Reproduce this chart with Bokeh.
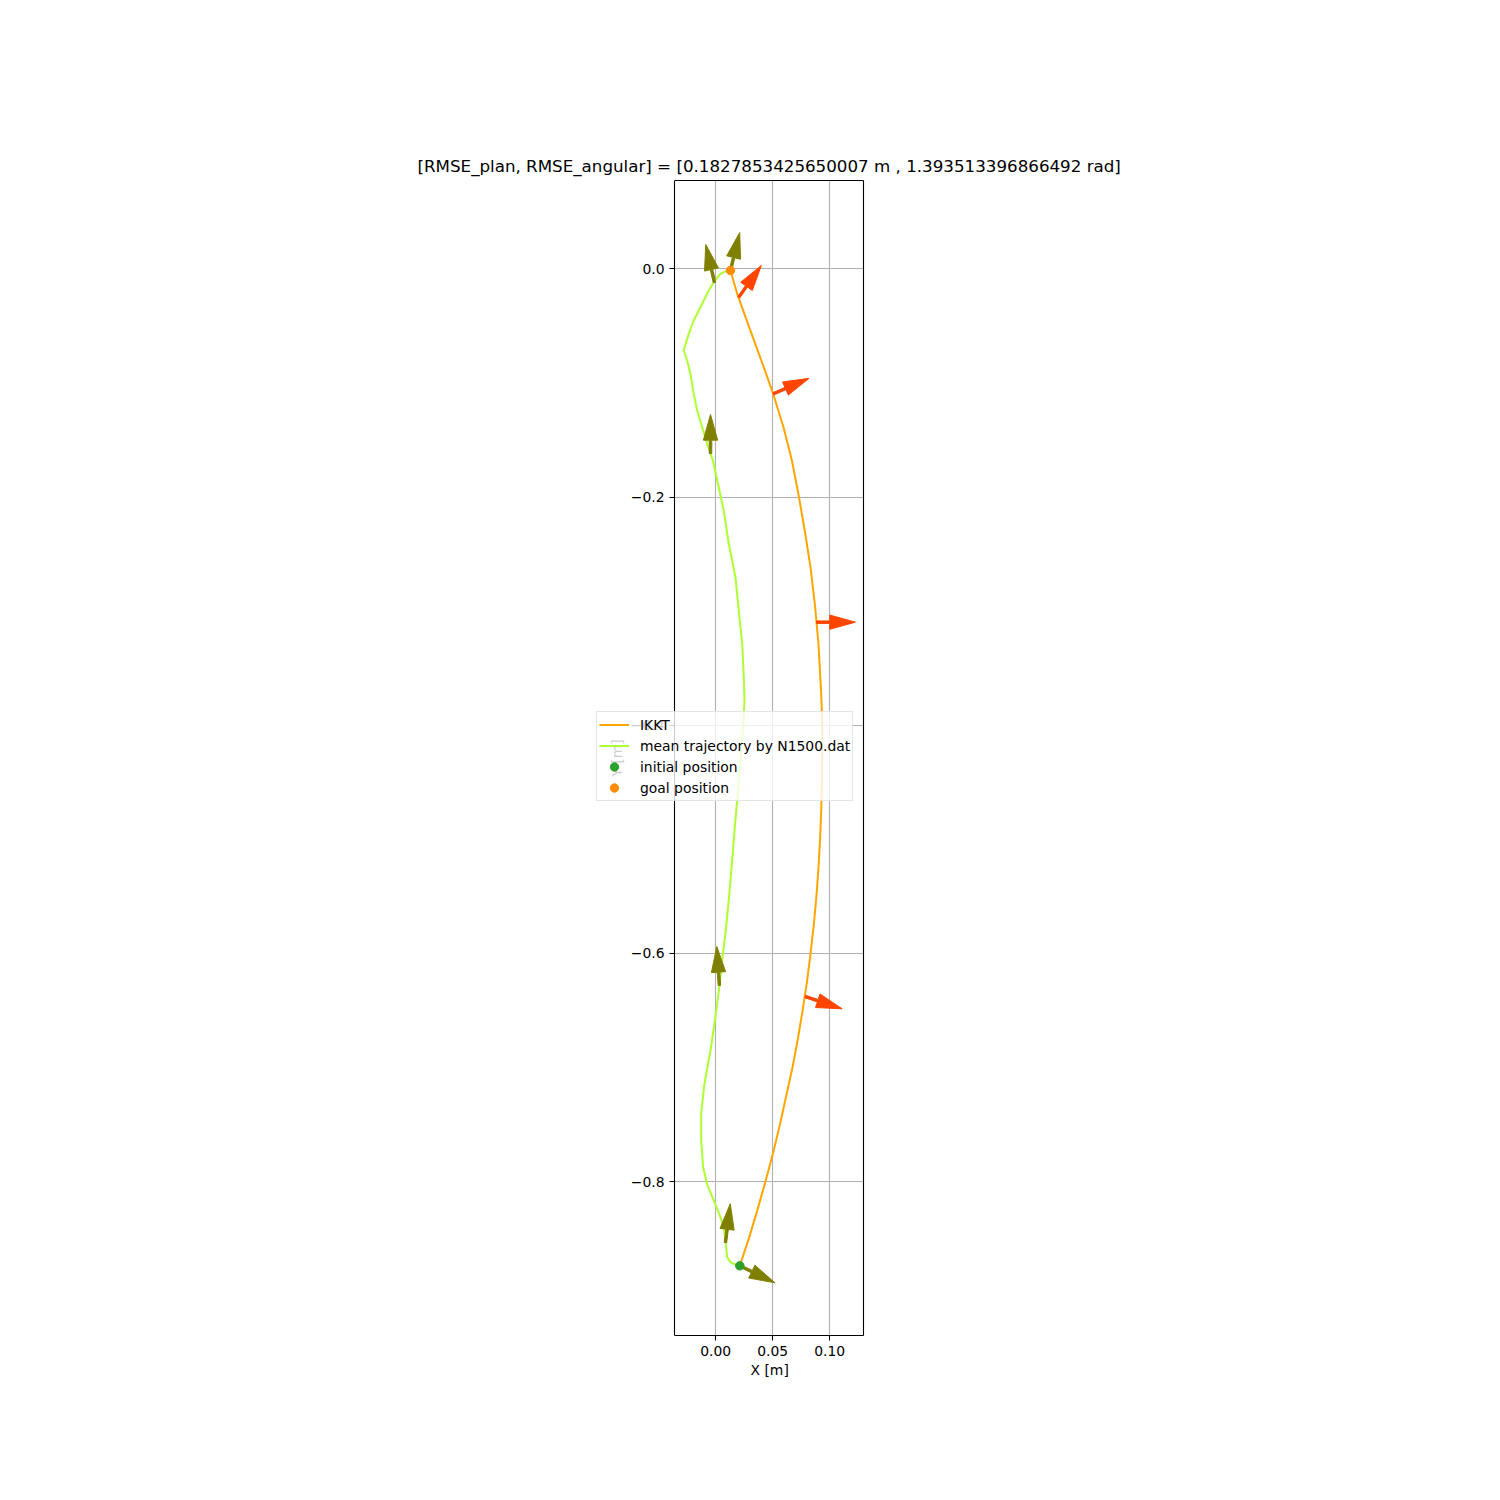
import numpy as np
from bokeh.plotting import figure
from bokeh.models import (Range1d, FixedTicker, Legend, LegendItem, LinearAxis,
                          BoxAnnotation, Title)
from bokeh.embed import file_html
from bokeh.resources import INLINE

TITLE = "[RMSE_plan, RMSE_angular] = [0.1827853425650007 m , 1.393513396866492 rad]"

# IKKT trajectory (from initial to goal)
ikkt_x = [0.0211, 0.0290, 0.0365, 0.0436, 0.0503, 0.0563, 0.0618, 0.0673, 0.0720, 0.0762,
          0.0800, 0.0832, 0.0860, 0.0883, 0.0901, 0.0915, 0.0925, 0.0931, 0.0934, 0.0935,
          0.0925, 0.0901, 0.0872, 0.0831, 0.0785, 0.0731, 0.0668, 0.0594, 0.0504, 0.0421,
          0.0304, 0.0188, 0.0129]
ikkt_y = [-0.8738, -0.850, -0.825, -0.800, -0.775, -0.750, -0.725, -0.700, -0.675, -0.650,
          -0.625, -0.600, -0.575, -0.550, -0.525, -0.500, -0.475, -0.450, -0.425, -0.400,
          -0.3725, -0.3287, -0.2966, -0.2615, -0.2320, -0.2007, -0.1680, -0.1388, -0.1096, -0.0862,
          -0.0541, -0.0219, -0.0015]

# mean trajectory by N1500.dat
mean_x = [0.0211, 0.0188, 0.0129, 0.0100, 0.0085, 0.0070, 0.0041, -0.0016, -0.0073, -0.0111,
          -0.0128, -0.0128, -0.0099, -0.0046, -0.0003, 0.0035, 0.0056, 0.0085, 0.0114, 0.0144,
          0.0167, 0.0193, 0.0217, 0.0240, 0.0252, 0.0246, 0.0232, 0.0202, 0.0173, 0.0114,
          0.0070, 0.0026, -0.0025, -0.0075, -0.0119, -0.0163, -0.0193, -0.0222, -0.0251, -0.0281,
          -0.0237, -0.0193, -0.0149, -0.0105, -0.0061, -0.0018, 0.0041, 0.0100, 0.0129]
mean_y = [-0.8738, -0.8735, -0.8706, -0.8663, -0.8516, -0.8400, -0.8312, -0.8166, -0.8034, -0.7874,
          -0.7640, -0.7403, -0.7140, -0.6851, -0.6559, -0.6264, -0.6062, -0.5826, -0.5536, -0.5186,
          -0.4894, -0.4601, -0.4309, -0.4018, -0.3783, -0.3579, -0.3287, -0.2995, -0.2703, -0.2410,
          -0.2118, -0.1914, -0.1680, -0.1534, -0.1388, -0.1242, -0.1096, -0.0920, -0.0804, -0.0716,
          -0.0570, -0.0453, -0.0365, -0.0278, -0.0190, -0.0117, -0.0044, -0.0015, -0.0015]

# orientation arrows along IKKT (orangered)
ikkt_arrow_x = [0.0202, 0.0504, 0.0883, 0.0784]
ikkt_arrow_y = [-0.0249, -0.1096, -0.3097, -0.6378]
ikkt_arrow_deg = [54.6, 23.4, 0.0, -18.4]

# orientation arrows along mean trajectory (olive)
mean_arrow_x = [0.0211, 0.0085, 0.0032, -0.0046, -0.0011, 0.0129]
mean_arrow_y = [-0.8738, -0.8534, -0.6281, -0.1619, -0.0120, -0.0015]
mean_arrow_deg = [-25.8, 82.9, 93.8, 90.0, 103.0, 76.3]

init_x, init_y = [0.0211], [-0.8738]
goal_x, goal_y = [0.0129], [-0.0015]

# axes box limits (data units)
x_lim = (-0.0362, 0.1296)
y_lim = (-0.9349, 0.0774)
x_ticks = [0.0, 0.05, 0.10]
x_tick_labels = ["0.00", "0.05", "0.10"]
y_ticks = [-0.8, -0.6, -0.4, -0.2, 0.0]
y_tick_labels = ["\u22120.8", "\u22120.6", "\u22120.4", "\u22120.2", "0.0"]

FONT = "DejaVu Sans"
SCALE = 1140.0            # px per metre (equal aspect)
FRAME_LEFT = 580          # frame extends left of the axes box to host the legend
FRAME_W = 283
x_start = x_lim[1] - FRAME_W / SCALE


def arrow_polys(xs, ys, degs, shaft=0.0117, width=0.0022, head_w=0.0125, head_l=0.0225):
    pxs, pys = [], []
    for x, y, d in zip(xs, ys, degs):
        t = np.radians(d)
        u = np.array([np.cos(t), np.sin(t)])
        n = np.array([-u[1], u[0]])
        s = np.array([x, y])
        b = s + u * shaft
        pts = [s + n * width / 2, b + n * width / 2, b + n * head_w / 2,
               b + u * head_l, b - n * head_w / 2, b - n * width / 2, s - n * width / 2]
        pxs.append([float(pt[0]) for pt in pts])
        pys.append([float(pt[1]) for pt in pts])
    return pxs, pys


p = figure(frame_width=FRAME_W, frame_height=1155,
           x_range=Range1d(x_start, x_lim[1]), y_range=Range1d(*y_lim),
           output_backend="svg", toolbar_location=None,
           min_border_left=FRAME_LEFT, min_border_top=180, min_border_right=617,
           min_border_bottom=145, title=TITLE)

p.title.align = "left"
p.title.offset = -163
p.title.text_font = FONT
p.title.text_font_size = "16.7px"
p.title.text_font_style = "normal"
p.title.text_color = "black"

p.outline_line_color = None


def style_axis(ax):
    ax.axis_line_color = "black"
    ax.axis_line_width = 1.1
    ax.major_tick_line_color = "black"
    ax.major_tick_line_width = 1.1
    ax.major_tick_in = 0
    ax.major_tick_out = 5
    ax.minor_tick_line_color = None
    ax.major_label_text_font = FONT
    ax.major_label_text_font_size = "13.9px"
    ax.major_label_text_color = "black"
    ax.major_label_standoff = 5
    ax.axis_label_text_font = FONT
    ax.axis_label_text_font_size = "13.9px"
    ax.axis_label_text_font_style = "normal"
    ax.axis_label_text_color = "black"


xa, ya = p.xaxis[0], p.yaxis[0]
style_axis(xa)
style_axis(ya)
xa.ticker = FixedTicker(ticks=x_ticks)
xa.major_label_overrides = {t: l for t, l in zip(x_ticks, x_tick_labels)}
xa.bounds = x_lim
ya.ticker = FixedTicker(ticks=y_ticks)
ya.major_label_overrides = {t: l for t, l in zip(y_ticks, y_tick_labels)}
ya.fixed_location = x_lim[0]
ya.axis_label = "Y [m]"
ya.axis_label_standoff = 3

# top and right spines
for side, bnds in (("above", x_lim), ("right", y_lim)):
    sp = LinearAxis(ticker=FixedTicker(ticks=[]), bounds=bnds)
    sp.axis_line_color = "black"
    sp.axis_line_width = 1.1
    sp.major_tick_out = 0
    sp.major_tick_in = 0
    sp.minor_tick_line_color = None
    sp.major_label_text_font_size = "0px"
    p.add_layout(sp, side)

p.add_layout(Title(text="X [m]", align="left", offset=170, text_font=FONT,
                   text_font_size="13.9px", text_font_style="normal",
                   text_color="black", standoff=2), "below")

p.grid.grid_line_color = "#b0b0b0"
p.grid.grid_line_width = 1.1

# hide grid lines left of the axes box (area used only by the legend)
p.add_layout(BoxAnnotation(right=x_lim[0], fill_color="white", fill_alpha=1.0,
                           line_color=None, level="underlay"))

r_ikkt = p.line(ikkt_x, ikkt_y, line_color="#FFA500", line_width=2)
r_mean = p.line(mean_x, mean_y, line_color="#ADFF2F", line_width=2)

axs, ays = arrow_polys(ikkt_arrow_x, ikkt_arrow_y, ikkt_arrow_deg)
p.patches(axs, ays, fill_color="#FF4500", line_color="#FF4500", line_width=1)
bxs, bys = arrow_polys(mean_arrow_x, mean_arrow_y, mean_arrow_deg)
p.patches(bxs, bys, fill_color="#808000", line_color="#808000", line_width=1)

r_init = p.scatter(init_x, init_y, size=8.5, fill_color="#2ca02c", line_color="#2ca02c")
r_goal = p.scatter(goal_x, goal_y, size=8.5, fill_color="#FF8C00", line_color="#FF8C00")

legend = Legend(items=[
    LegendItem(label="IKKT", renderers=[r_ikkt]),
    LegendItem(label="mean trajectory by N1500.dat", renderers=[r_mean]),
    LegendItem(label="initial position", renderers=[r_init]),
    LegendItem(label="goal position", renderers=[r_goal]),
], location=(16, 534))
legend.label_text_font = FONT
legend.label_text_font_size = "13.9px"
legend.label_text_color = "black"
legend.glyph_width = 30
legend.glyph_height = 21
legend.label_height = 21
legend.spacing = 0
legend.padding = 2
legend.margin = 0
legend.label_standoff = 11
legend.border_line_color = "#cccccc"
legend.border_line_width = 1
legend.background_fill_color = "white"
legend.background_fill_alpha = 0.8
p.add_layout(legend)

open("out.html", "w").write(file_html(p, INLINE))
